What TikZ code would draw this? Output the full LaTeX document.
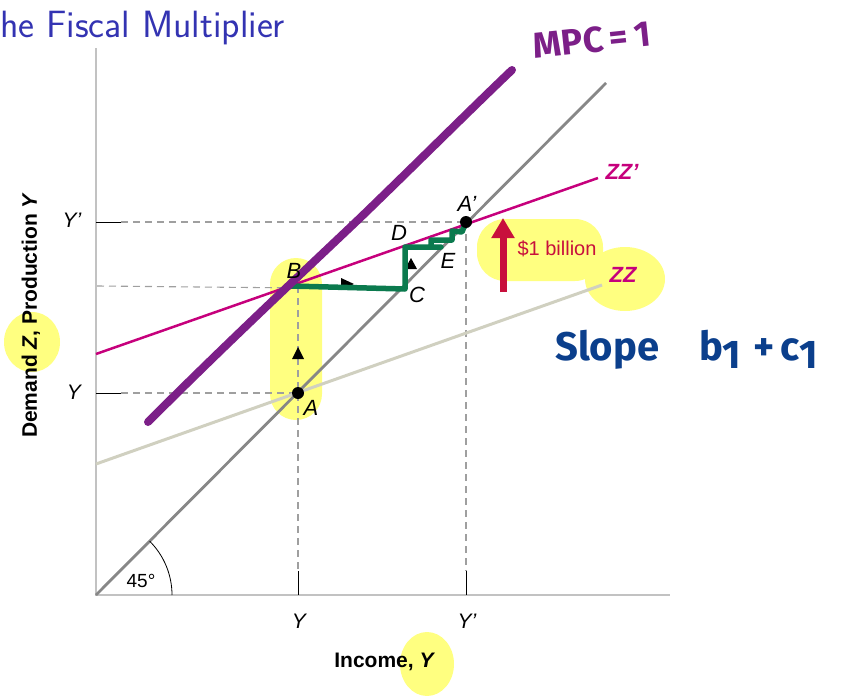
\documentclass[tikz,border=0pt]{standalone}
\usepackage{fontspec}
\newfontfamily\helv{Liberation Sans}
\newfontfamily\hand{Fira Sans}
\usetikzlibrary{arrows.meta}
\definecolor{titleblue}{HTML}{3333B2}
\definecolor{axisgray}{HTML}{C2C2C2}
\definecolor{diaggray}{HTML}{878787}
\definecolor{zzgray}{HTML}{D0D0C0}
\definecolor{zzmag}{HTML}{C6007C}
\definecolor{billred}{HTML}{C8103C}
\definecolor{stairgreen}{HTML}{0B7A4E}
\definecolor{mpcpurple}{HTML}{7C1F88}
\definecolor{slopeblue}{HTML}{0B3F8C}
\definecolor{hilite}{HTML}{FFFF80}
\tikzset{
  axisline/.style={axisgray, line width=2.5pt},
  guide/.style={gray!75, line width=1.1pt, dash pattern=on 7pt off 5pt},
  tickmark/.style={black, line width=0.9pt},
  ptlabel/.style={font=\helv\itshape\fontsize{22}{24}\selectfont},
  axlabel/.style={font=\helv\itshape\fontsize{21}{23}\selectfont},
  zzlabel/.style={zzmag, font=\helv\bfseries\itshape\fontsize{22}{24}\selectfont},
  hl/.style={fill=hilite, draw=none},
}
\begin{document}
\begin{tikzpicture}[x=1pt, y=-1pt]
  \useasboundingbox (0,0) rectangle (844,696);

  % highlights
  \fill[hl, rounded corners=26pt] (270,258) rectangle (322,420);
  \fill[hl, rounded corners=28pt] (477,219) rectangle (603,281);
  \fill[hl] (625,279) ellipse [x radius=40, y radius=32];
  \fill[hl] (32,342) ellipse [x radius=28, y radius=30];
  \fill[hl] (427,664) ellipse [x radius=27, y radius=32];

  % title
  \node[anchor=base west, inner sep=0pt, titleblue,
    font=\sffamily\fontsize{38}{42}\selectfont] (title) at (0,37) {he Fiscal Multiplier};

  % points
  \coordinate (O) at (96,595);
  \coordinate (ptA) at (298,393);
  \coordinate (ptAp) at (466,222);
  \coordinate (ptB) at (290,286);
  \coordinate (ptC) at (405,289);
  \coordinate (ptD) at (405,247);

  % dashed guides
  \draw[guide] (121,222) -- (ptAp);
  \draw[guide] (97,286) -- (ptC);
  \draw[guide] (121,393) -- (ptA);
  \draw[guide] (298,286) -- (298,571);
  \draw[guide] (ptAp) -- (466,571);

  % axes
  \draw[axisline] (96,48) -- (O) -- (670,595);
  \draw[tickmark] (96,222) -- (121,222);
  \draw[tickmark] (96,393) -- (121,393);
  \draw[tickmark] (298,571) -- (298,595);
  \draw[tickmark] (466,571) -- (466,595);

  % lines
  \draw[zzgray, line width=3pt] (96,464) -- (602,285);
  \draw[diaggray, line width=2.8pt] (O) -- (606,83);
  \draw[zzmag, line width=2.5pt] (96,354) -- (598,178);
  \draw[black, line width=0.8pt] (172,595) arc[start angle=0, end angle=-45, radius=76];

  % direction marks
  \fill (292,359) -- (304,359) -- (298,347) -- cycle;
  \fill (341,278) -- (341,290) -- (354,284) -- cycle;
  \fill (405,269) -- (417,269) -- (411,258) -- cycle;

  % staircase
  \draw[stairgreen, line width=5.5pt, line cap=round, line join=round]
    (ptB) -- (ptC) -- (ptD) -- (441,247) (431,247) -- (431,240) -- (452,240)
    -- (452,231) -- (462,232) -- (ptAp);

  % mpc line
  \draw[mpcpurple, line width=8pt, line cap=round]
    (148,422) .. controls (230,340) and (300,275) .. (360,218)
    .. controls (420,160) and (470,110) .. (512,70);

  % dots
  \fill (ptA) circle (6pt);
  \fill (ptAp) circle (6pt);

  % shift arrow
  \draw[billred, line width=7pt, -{Triangle[length=20pt, width=22pt]}]
    (503,292) -- (503,218);
  \node[billred, font=\helv\fontsize{20}{22}\selectfont] (bill) at (557,249) {\$1 billion};

  % labels
  \node[ptlabel] (labA) at (311,408) {A};
  \node[ptlabel] (labAp) at (467,204) {A’};
  \node[ptlabel] (labB) at (294,271) {B};
  \node[ptlabel] (labC) at (417,295) {C};
  \node[ptlabel] (labD) at (399,233) {D};
  \node[ptlabel] (labE) at (448,261) {E};
  \node[zzlabel] (labZZp) at (622,172) {ZZ’};
  \node[zzlabel] (labZZ) at (623,275) {ZZ};

  \node[axlabel] (yp) at (72,220) {Y’};
  \node[axlabel] (y) at (74,392) {Y};
  \node[axlabel] (x) at (299,621) {Y};
  \node[axlabel] (xp) at (467,621) {Y’};
  \node[font=\helv\fontsize{19}{21}\selectfont] (ang) at (141,581) {45°};

  \node[font=\helv\bfseries\fontsize{21}{23}\selectfont] (xtitle) at (384,662) {Income, \itshape Y};
  \node[font=\helv\bfseries\fontsize{21}{23}\selectfont, rotate=90] (ytitle) at (31,316)
    {Demand \itshape Z\upshape, Production \itshape Y};

  % handwritten notes
  \node[mpcpurple, font=\hand\bfseries\fontsize{36}{40}\selectfont, rotate=6, inner sep=0pt] (mpc) at (592,40) {MPC\,=\,1};
  \node[slopeblue, font=\hand\bfseries\fontsize{40}{44}\selectfont, anchor=west, inner sep=0pt] (slope) at (555,350)
    {Slope\hspace{1.0em}b\raisebox{-0.2em}{1}\hspace{0.3em}+\hspace{0.15em}c\raisebox{-0.2em}{1}};
\end{tikzpicture}
\end{document}
